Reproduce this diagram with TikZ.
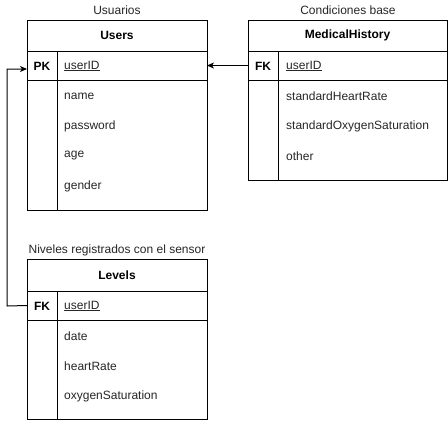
\documentclass[tikz,border=0pt]{standalone}
\usepackage{fontspec}
\setmainfont{Liberation Sans}
\usetikzlibrary{arrows.meta}
\begin{document}
\begin{tikzpicture}[x=1pt,y=-1pt,
  cell/.style={draw=black,line width=1pt,anchor=north west,inner sep=0pt,outer sep=0pt,font=\fontsize{12}{14}\selectfont},
  field/.style={anchor=west,inner sep=0pt,font=\fontsize{12}{14}\selectfont,text=black!85},
  lbltext/.style={inner sep=0pt,font=\fontsize{12}{14}\selectfont,text=black!85},
  keytext/.style={inner sep=0pt,font=\fontsize{12}{14}\selectfont\bfseries},
  arr/.style={line width=1pt,-{Stealth[length=7pt,width=6pt,inset=2pt]}}
]
\useasboundingbox (0,0) rectangle (448,421);
% Users
\node[lbltext] (usersLbl) at (117,10) {Usuarios};
\node[cell,minimum width=180pt,minimum height=31pt] (usersT) at (27,20) {\textbf{Users}};
\node[cell,minimum width=180pt,minimum height=29pt] (usersK) at (27,51) {};
\node[cell,minimum width=180pt,minimum height=130pt] (usersB) at (27,80) {};
\draw[line width=1pt] (usersK.north west) ++(30,0) coordinate (uc1) -- (uc1 |- usersB.south);
\node[keytext] (usersPK) at (42,66) {PK};
\node[field] (usersID) at (64,66) {\underline{userID}};
\node[field] (uname) at (64,96) {name};
\node[field] (upass) at (64,126) {password};
\node[field] (uage) at (64,156) {age};
\node[field] (ugender) at (64,186) {gender};
% MedicalHistory
\node[lbltext] (mhLbl) at (348,10) {Condiciones base};
\node[cell,minimum width=199pt,minimum height=31pt] (mhT) at (248,20) {\textbf{MedicalHistory}};
\node[cell,minimum width=199pt,minimum height=29pt] (mhK) at (248,51) {};
\node[cell,minimum width=199pt,minimum height=100pt] (mhB) at (248,80) {};
\draw[line width=1pt] (mhK.north west) ++(30,0) coordinate (mc1) -- (mc1 |- mhB.south);
\node[keytext] (mhFK) at (263,66) {FK};
\node[field] (mhID) at (286,66) {\underline{userID}};
\node[field] (mhHR) at (286,96) {standardHeartRate};
\node[field] (mhOS) at (286,126) {standardOxygenSaturation};
\node[field] (mhOther) at (286,156) {other};
% Levels
\node[lbltext] (lvLbl) at (117,250) {Niveles registrados con el sensor};
\node[cell,minimum width=180pt,minimum height=32pt] (lvT) at (27,259) {\textbf{Levels}};
\node[cell,minimum width=180pt,minimum height=29pt] (lvK) at (27,291) {};
\node[cell,minimum width=180pt,minimum height=99pt] (lvB) at (27,320) {};
\draw[line width=1pt] (lvK.north west) ++(30,0) coordinate (lc1) -- (lc1 |- lvB.south);
\node[keytext] (lvFK) at (42,306) {FK};
\node[field] (lvID) at (64,306) {\underline{userID}};
\node[field] (lvDate) at (64,336) {date};
\node[field] (lvHR) at (64,366) {heartRate};
\node[field] (lvOS) at (64,396) {oxygenSaturation};
% connectors
\draw[arr] (mhK.west) -- (usersK.east);
\coordinate (bendA) at (7,306);
\coordinate (bendB) at (7,69);
\coordinate (usersIn) at (27,69);
\draw[arr] (lvK.west) -- (bendA) -- (bendB) -- (usersIn);
\end{tikzpicture}
\end{document}
